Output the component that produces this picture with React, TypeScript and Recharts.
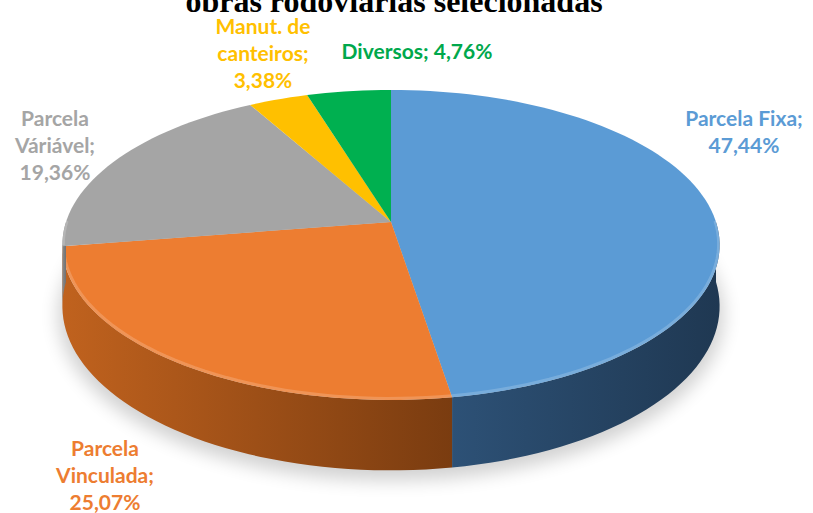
import { PieChart, Pie, Cell } from "recharts";

const categories = ["Parcela Fixa", "Parcela Vinculada", "Parcela Váriável", "Manut. de canteiros", "Diversos"];
const shares = [47.44, 25.07, 19.36, 3.38, 4.76];

const topColors = ["#5B9BD5", "#ED7D31", "#A5A5A5", "#FFC000", "#00B050"];
const sideColors = [
  ["#2d5176", "#1f3852"],
  ["#c0621e", "#7a3c10"],
  ["#8c8c8c", "#707070"],
  ["#cc9a00", "#a37b00"],
  ["#008c40", "#006b30"],
];
const labelColors = ["#5B9BD5", "#ED7D31", "#A5A5A5", "#FFC000", "#00A84C"];

// where Excel put each data label (centre of first line) and wrap width in chars
const labelLayout = [
  { x: 744, y: 117, wrap: 13 },
  { x: 105, y: 447, wrap: 13 },
  { x: 55, y: 117, wrap: 13 },
  { x: 263, y: 25, wrap: 13 },
  { x: 417, y: 50, wrap: 20 },
];

const data = categories.map((name, i) => ({ name, value: shares[i] }));

// fake 3D: tilted disc with a little perspective
const TILT = 0.4665;
const PERSP = 0.148;
const DEPTH = 60;

const proj = (cx: number, cy: number, r: number, deg: number, drop = 0) => {
  const a = (deg * Math.PI) / 180;
  const u = Math.cos(a);
  const v = Math.sin(a);
  const s = 1 / (1 + PERSP * v);
  return [cx + r * u * s, cy - r * TILT * v * s + drop * s];
};

const arcPts = (cx: number, cy: number, r: number, a1: number, a2: number, drop = 0) => {
  const n = Math.max(2, Math.ceil(Math.abs(a2 - a1) / 2));
  const pts: number[][] = [];
  for (let k = 0; k <= n; k++) pts.push(proj(cx, cy, r, a1 + ((a2 - a1) * k) / n, drop));
  return pts;
};

const toPath = (pts: number[][]) => pts.map((p, i) => `${i ? "L" : "M"}${p[0].toFixed(2)},${p[1].toFixed(2)}`).join(" ");

const fmt = (v: number) => v.toFixed(2).replace(".", ",") + "%";

const Slice3D = (props: any) => {
  const { cx, cy, outerRadius, startAngle, endAngle } = props;
  const name = props.payload?.name ?? props.name;
  const i = Math.max(0, categories.indexOf(name));
  const lo = Math.min(startAngle, endAngle);
  const hi = Math.max(startAngle, endAngle);

  // front-facing part of the rim
  const sides: number[][] = [];
  for (let k = -2; k <= 1; k++) {
    const a = Math.max(lo, -180 + 360 * k);
    const b = Math.min(hi, 360 * k);
    if (b > a) sides.push([a, b]);
  }

  const top = arcPts(cx, cy, outerRadius, startAngle, endAngle);
  const gid = `side-grad-${i}`;

  return (
    <g>
      <defs>
        <linearGradient id={gid} x1="0" y1="0" x2="1" y2="0">
          <stop offset="0%" stopColor={sideColors[i][0]} />
          <stop offset="100%" stopColor={sideColors[i][1]} />
        </linearGradient>
        <filter id="pie-shadow" x="-20%" y="-20%" width="140%" height="140%">
          <feGaussianBlur stdDeviation="9" />
        </filter>
      </defs>
      {i === 0 && (
        <path
          d={toPath(arcPts(cx, cy + 8, outerRadius + 4, 0, 360, DEPTH)) + " Z"}
          fill="#000"
          opacity={0.18}
          filter="url(#pie-shadow)"
        />
      )}
      {sides.map(([a, b], k) => {
        const up = arcPts(cx, cy, outerRadius, a, b);
        const down = arcPts(cx, cy, outerRadius, b, a, DEPTH);
        return <path key={k} d={toPath([...up, ...down]) + " Z"} fill={`url(#${gid})`} />;
      })}
      <path d={`M${cx},${cy} ` + toPath(top).replace("M", "L") + " Z"} fill={topColors[i]} />
      {sides.map(([a, b], k) => (
        <path
          key={`rim${k}`}
          d={toPath(arcPts(cx, cy - 1, outerRadius - 1, a, b))}
          fill="none"
          stroke="#fff"
          strokeOpacity={0.18}
          strokeWidth={3}
        />
      ))}
    </g>
  );
};

const wrapText = (text: string, width: number) => {
  const words = text.split(" ");
  const lines: string[] = [];
  let cur = "";
  words.forEach((w) => {
    const next = cur ? cur + " " + w : w;
    if (next.length > width && cur) {
      lines.push(cur);
      cur = w;
    } else cur = next;
  });
  if (cur) lines.push(cur);
  return lines;
};

const SliceLabel = (props: any) => {
  const name = props.payload?.name ?? props.name;
  const i = categories.indexOf(name);
  if (i < 0) return null;
  const pos = labelLayout[i];
  const lines = wrapText(`${name}; ${fmt(shares[i])}`, pos.wrap);
  return (
    <text
      x={pos.x}
      y={pos.y}
      textAnchor="middle"
      dominantBaseline="central"
      fill={labelColors[i]}
      style={{ fontFamily: "Lato, 'Open Sans', sans-serif", fontWeight: 700, fontSize: 21 }}
    >
      {lines.map((ln, k) => (
        <tspan key={k} x={pos.x} dy={k === 0 ? 0 : 27}>
          {ln}
        </tspan>
      ))}
    </text>
  );
};

export default function App() {
  return (
    <div style={{ position: "absolute", left: 0, top: 0, width: 813, height: 513, background: "#fff" }}>
      <PieChart width={813} height={513} margin={{ top: 0, right: 0, bottom: 0, left: 0 }}>
        <text
          x={394}
          y={12}
          textAnchor="middle"
          style={{ fontFamily: "'Liberation Serif', serif", fontWeight: 700, fontSize: 32 }}
          fill="#000"
        >
          obras rodoviárias selecionadas
        </text>
        <Pie
          data={data}
          dataKey="value"
          nameKey="name"
          cx={391}
          cy={222}
          outerRadius={325}
          startAngle={90}
          endAngle={-270}
          stroke="none"
          shape={Slice3D}
          label={SliceLabel}
          labelLine={false}
          isAnimationActive={false}
        >
          {data.map((d, i) => (
            <Cell key={d.name} fill={topColors[i]} />
          ))}
        </Pie>
      </PieChart>
    </div>
  );
}
